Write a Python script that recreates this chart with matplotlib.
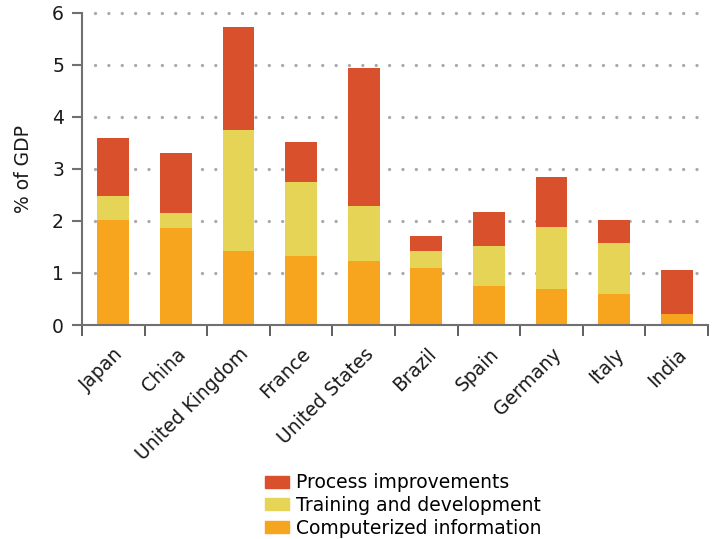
import matplotlib
matplotlib.use('Agg')
import matplotlib.pyplot as plt
import numpy as np
from matplotlib.patches import Patch

#%% Data
countries = ['Japan', 'China', 'United Kingdom', 'France', 'United States',
             'Brazil', 'Spain', 'Germany', 'Italy', 'India']
computerized = [2.02, 1.86, 1.42, 1.33, 1.23, 1.10, 0.75, 0.69, 0.60, 0.21]
training = [0.46, 0.29, 2.33, 1.42, 1.06, 0.32, 0.77, 1.19, 0.98, 0.00]
process = [1.11, 1.15, 1.98, 0.77, 2.65, 0.29, 0.65, 0.96, 0.44, 0.85]

COLOR = {'comp': '#F7A51E', 'train': '#E5D455', 'proc': '#D9512C',
         'grid': '#AAAAAA', 'axis': '#707070', 'text': '#1A1A1A'}

#%% Plot
plt.rcParams['font.family'] = ['DejaVu Sans']
fig = plt.figure(figsize=(7.12, 5.39), dpi=100)
ax = fig.add_axes([0.1152, 0.397, 0.8792, 0.5794])

x = np.arange(len(countries))
w = 0.51
comp = np.array(computerized)
train = np.array(training)
proc = np.array(process)
ax.bar(x, comp, w, color=COLOR['comp'], zorder=2)
ax.bar(x, train, w, bottom=comp, color=COLOR['train'], zorder=2)
ax.bar(x, proc, w, bottom=comp + train, color=COLOR['proc'], zorder=2)

ax.set_xlim(-0.5, len(countries) - 0.5)
ax.set_ylim(0, 6)
ax.set_yticks(range(7))
ax.set_xticks(x)
ax.set_xticks(np.arange(-0.5, len(countries)), minor=True)
ax.set_xticklabels(countries, rotation=45, ha='right', rotation_mode='anchor',
                   fontsize=13.5, color=COLOR['text'])
ax.tick_params(axis='x', which='major', length=0, pad=14)
ax.tick_params(axis='x', which='minor', length=8, width=1.2, color='#444444')
ax.tick_params(axis='y', length=7, width=1.5, color=COLOR['axis'], labelsize=13.5,
               labelcolor=COLOR['text'], pad=6)

# dotted grid lines
for y in range(1, 7):
    ax.plot([-0.3, len(countries) - 0.5], [y, y], color=COLOR['grid'], linewidth=2.4,
            linestyle=(0, (0.01, 4.0)), dash_capstyle='round', zorder=1, clip_on=False)

for s in ['top', 'right']:
    ax.spines[s].set_visible(False)
ax.spines['left'].set_color(COLOR['axis'])
ax.spines['left'].set_linewidth(1.5)
ax.spines['bottom'].set_color(COLOR['axis'])
ax.spines['bottom'].set_linewidth(1.5)

ax.set_ylabel('% of GDP', fontsize=13.5, color=COLOR['text'], labelpad=14)

handles = [Patch(color=COLOR['proc']), Patch(color=COLOR['train']), Patch(color=COLOR['comp'])]
labels = ['Process improvements', 'Training and development', 'Computerized information']
fig.legend(handles, labels, loc='upper left', bbox_to_anchor=(0.372, 0.122), frameon=False,
           fontsize=13.5, handlelength=1.3, handleheight=0.6, handletextpad=0.35,
           labelspacing=0.2, borderpad=0, borderaxespad=0)

fig.savefig('out.png', dpi=100)
